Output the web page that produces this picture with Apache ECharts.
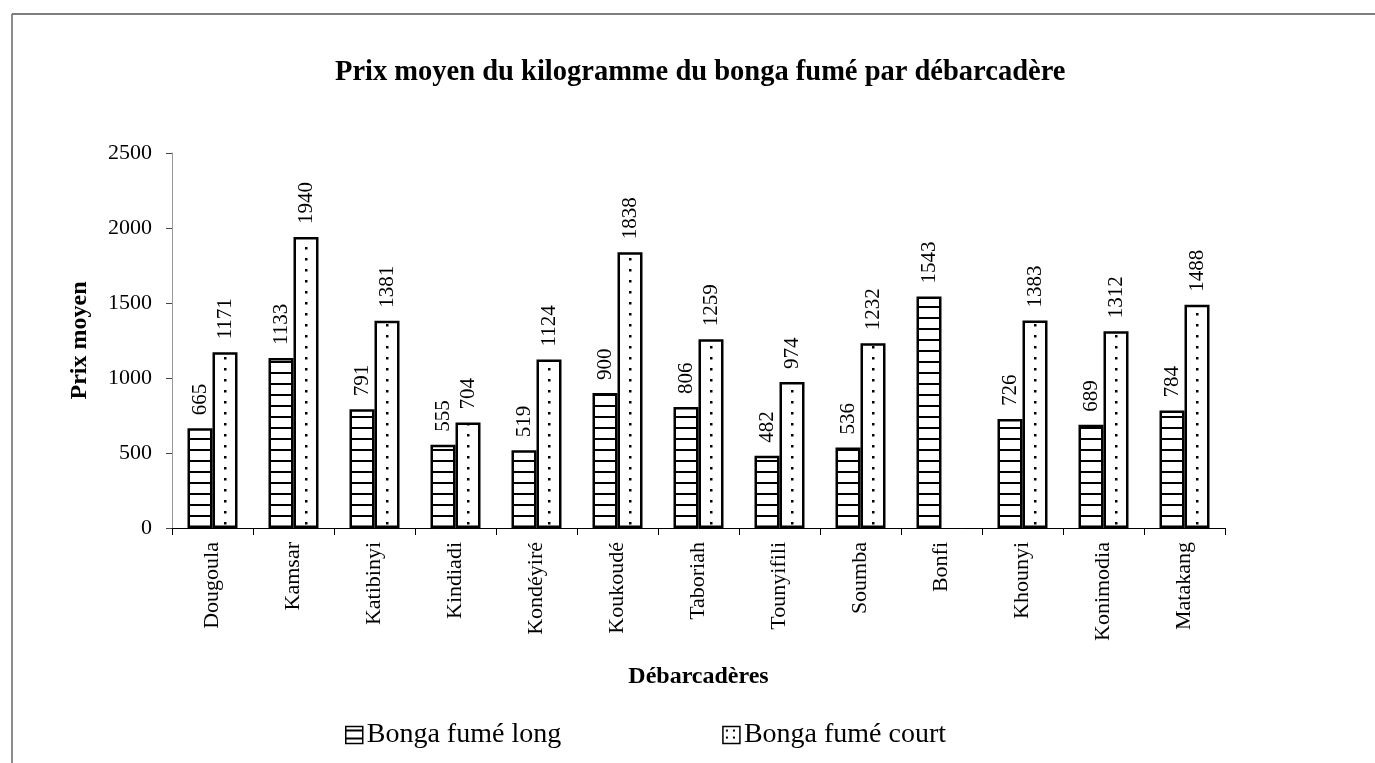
<!DOCTYPE html>
<html>
<head>
<meta charset="utf-8">
<script src="https://cdn.jsdelivr.net/npm/echarts@6/dist/echarts.min.js"></script>
<style>
html,body{margin:0;padding:0;background:#fff;}
#chart{width:1375px;height:763px;}
</style>
</head>
<body>
<div id="chart"></div>
<script>
const categories = ['Dougoula','Kamsar','Katibinyi','Kindiadi','Kondéyiré','Koukoudé','Taboriah','Tounyifili','Soumba','Bonfi','Khounyi','Konimodia','Matakang'];
const longValues = [665,1133,791,555,519,900,806,482,536,1543,726,689,784];
const courtValues = [1171,1940,1381,704,1124,1838,1259,974,1232,null,1383,1312,1488];
const seriesNames = ['Bonga fumé long','Bonga fumé court'];
const yTicks = {min:0, max:2500, interval:500};

const FONT = '"Liberation Serif", "DejaVu Serif", serif';

function makeLinesPattern(){
  const c = document.createElement('canvas');
  c.width = 8; c.height = 11;
  const ctx = c.getContext('2d');
  ctx.fillStyle = '#fff'; ctx.fillRect(0,0,8,11);
  ctx.fillStyle = '#000'; ctx.fillRect(0,9,8,2);
  return c;
}
function makeDotsPattern(){
  const c = document.createElement('canvas');
  c.width = 81; c.height = 11;
  const ctx = c.getContext('2d');
  ctx.fillStyle = '#fff'; ctx.fillRect(0,0,81,11);
  ctx.fillStyle = '#000'; ctx.fillRect(62,5,2.5,2.5);
  return c;
}
function makeLegendDots(){
  const c = document.createElement('canvas');
  c.width = 7; c.height = 7;
  const ctx = c.getContext('2d');
  ctx.fillStyle = '#fff'; ctx.fillRect(0,0,7,7);
  ctx.fillStyle = '#000'; ctx.fillRect(3,3,2,2);
  return c;
}
function makeLegendLines(){
  const c = document.createElement('canvas');
  c.width = 8; c.height = 8;
  const ctx = c.getContext('2d');
  ctx.fillStyle = '#fff'; ctx.fillRect(0,0,8,8);
  ctx.fillStyle = '#000'; ctx.fillRect(0,3,8,2);
  return c;
}

const linesPat = {image: makeLinesPattern(), repeat: 'repeat'};
const dotsPat = {image: makeDotsPattern(), repeat: 'repeat'};
const legLines = {image: makeLegendLines(), repeat: 'repeat'};
const legDots = {image: makeLegendDots(), repeat: 'repeat'};

const chart = echarts.init(document.getElementById('chart'), null, {renderer:'canvas'});

const labelCfg = {
  show: true, position: 'top', rotate: 90, align: 'left', verticalAlign: 'middle',
  distance: 13, fontFamily: FONT, fontSize: 21, color: '#000'
};

chart.setOption({
  backgroundColor: '#fff',
  animation: false,
  title: {
    text: 'Prix moyen du kilogramme du bonga fumé par débarcadère',
    left: 330, top: 53,
    textStyle: {fontFamily: FONT, fontSize: 28.5, fontWeight: 'bold', color: '#000'}
  },
  legend: {
    left: 340, top: 716, itemGap: 161, itemWidth: 17, itemHeight: 17,
    icon: 'rect',
    textStyle: {fontFamily: FONT, fontSize: 28, color: '#000', padding: [0,0,0,-1]},
    data: [
      {name: seriesNames[0], itemStyle: {color: legLines, borderColor: '#000', borderWidth: 1.5}},
      {name: seriesNames[1], itemStyle: {color: legDots, borderColor: '#000', borderWidth: 1.5}}
    ]
  },
  grid: {left: 172, top: 153, width: 1053, height: 375, containLabel: false},
  xAxis: {
    type: 'category', data: categories,
    name: 'Débarcadères', nameLocation: 'middle', nameGap: 137,
    nameTextStyle: {fontFamily: FONT, fontSize: 24, fontWeight: 'bold', color: '#000'},
    axisLine: {lineStyle: {color: '#000', width: 1}},
    axisTick: {show: true, length: 7, lineStyle: {color: '#000'}},
    axisLabel: {rotate: 90, fontFamily: FONT, fontSize: 22, color: '#000', margin: 14, interval: 0}
  },
  yAxis: {
    type: 'value', min: yTicks.min, max: yTicks.max, interval: yTicks.interval,
    name: 'Prix moyen', nameLocation: 'middle', nameGap: 80,
    nameTextStyle: {fontFamily: FONT, fontSize: 24, fontWeight: 'bold', color: '#000'},
    axisLine: {show: true, lineStyle: {color: '#999', width: 1}},
    axisTick: {show: true, length: 6, lineStyle: {color: '#444'}},
    axisLabel: {fontFamily: FONT, fontSize: 22, color: '#000', margin: 20, formatter: v => String(v)},
    splitLine: {show: false}
  },
  series: [
    {
      name: seriesNames[0], type: 'bar', data: longValues, barWidth: 25, barGap: '0%',
      itemStyle: {color: linesPat, borderColor: '#000', borderWidth: 2.5},
      label: labelCfg
    },
    {
      name: seriesNames[1], type: 'bar', data: courtValues, barWidth: 25, barGap: '0%',
      itemStyle: {color: dotsPat, borderColor: '#000', borderWidth: 2.5},
      label: labelCfg
    }
  ],
  graphic: [
    {type: 'line', shape: {x1: 12, y1: 14, x2: 1375, y2: 14}, style: {stroke: '#555', lineWidth: 1.5}, silent: true},
    {type: 'line', shape: {x1: 12, y1: 14, x2: 12, y2: 763}, style: {stroke: '#666', lineWidth: 1.5}, silent: true}
  ]
});
</script>
</body>
</html>
